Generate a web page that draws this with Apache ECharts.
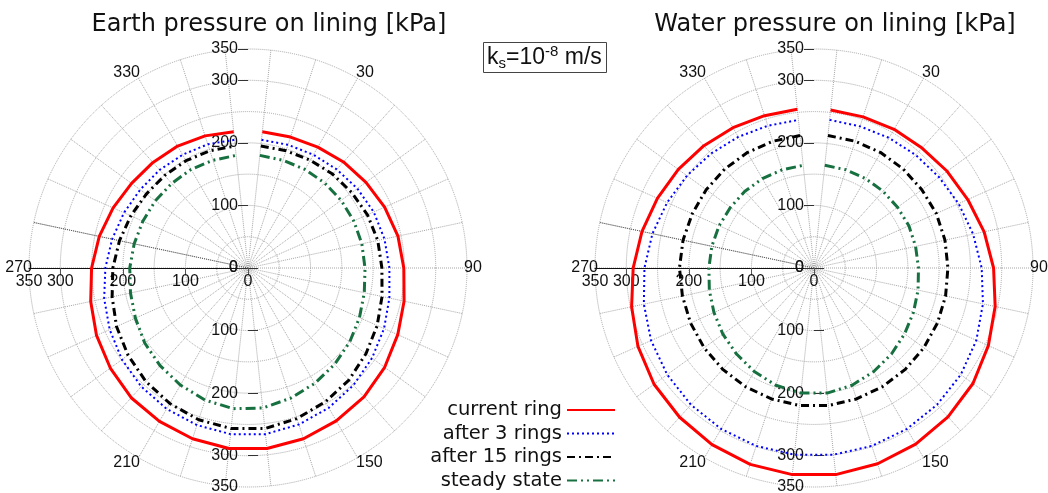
<!DOCTYPE html>
<html>
<head>
<meta charset="utf-8">
<script src="https://cdn.jsdelivr.net/npm/echarts@6/dist/echarts.min.js"></script>
<style>
  html, body { margin: 0; padding: 0; background: #fff; }
  #chart { width: 1048px; height: 493px; }
</style>
</head>
<body>
<div id="chart"></div>
<script>
// angles of the lining points (deg, clockwise from crown)
const angles = [6, 18, 30, 42, 54, 66, 78, 90, 102, 114, 126, 138, 150, 162, 174,
                186, 198, 210, 222, 234, 246, 258, 270, 282, 294, 306, 318, 330, 342, 354];
const seriesNames = ["current ring", "after 3 rings", "after 15 rings", "steady state"];

// Earth pressure [kPa]
const earthCurrent = [219, 220, 223, 228, 233, 239, 245, 249, 255, 262, 270, 277, 282, 287, 290,
                      290, 287, 283, 279, 272, 265, 257, 250, 243, 236, 230, 227, 225, 222, 219];
const earth3 = [206, 207, 209, 212, 216, 220, 223, 226, 231, 238, 245, 252, 258, 263, 267,
                267, 264, 260, 255, 249, 242, 235, 228, 222, 217, 213, 211, 209, 208, 206];
const earth15 = [196, 197, 199, 202, 205, 209, 212, 214, 219, 226, 233, 241, 247, 253, 258,
                 258, 255, 250, 244, 237, 230, 222, 216, 210, 205, 201, 199, 198, 197, 196];
const earthSteady = [181, 181, 182, 183, 184, 185, 186, 187, 190, 195, 201, 207, 213, 219, 225,
                     226, 222, 216, 210, 204, 197, 192, 189, 186, 184, 183, 182, 182, 181, 181];

// Water pressure [kPa]
const waterCurrent = [254, 254, 256, 258, 263, 269, 278, 287, 296, 305, 314, 320, 325, 329, 332,
                      332, 330, 326, 321, 316, 308, 298, 289, 281, 274, 268, 263, 259, 256, 255];
const water3 = [238, 238, 240, 243, 247, 253, 260, 268, 276, 284, 290, 294, 297, 299, 300,
                300, 299, 297, 294, 290, 285, 278, 271, 264, 257, 251, 246, 242, 239, 238];
const water15 = [213, 213, 213, 213, 213, 214, 214, 214, 215, 216, 217, 218, 219, 220, 221,
                 221, 220, 219, 218, 217, 216, 215, 215, 214, 213, 213, 213, 213, 213, 213];
const waterSteady = [165, 165, 165, 165, 165, 166, 166, 167, 170, 174, 179, 185, 191, 197, 201,
                     201, 197, 191, 185, 180, 175, 171, 168, 167, 166, 165, 165, 165, 165, 165];

const radialLabels = [0, 100, 200, 300, 350];
const radialTicks = [0, 100, 200, 300, 350];
const leftTicks = [0, 100, 200, 300];
const angleLabels = [30, 90, 150, 210, 270, 330];
const markedSpoke = 282;

const R = 219;
const centers = [[248, 268], [814, 268]];
const labelFont = { fontFamily: "Liberation Sans", fontSize: 16, color: "#111" };
const gridStroke = { color: "#a6a6a6", type: "dotted", width: 1 };
const tickStroke = { color: "#333", width: 1 };

const styles = [
  { color: "#ff0000", width: 3, type: "solid" },
  { color: "#0000ff", width: 2, type: [2, 3] },
  { color: "#000000", width: 3, type: [8, 4, 2, 4] },
  { color: "#17703f", width: 3, type: [10, 4, 2, 4, 2, 4] },
];

const polar = [], angleAxis = [], radiusAxis = [], series = [];

function addPolar(center, ang, rad) {
  const idx = polar.length;
  polar.push({ center: center, radius: [0, R] });
  angleAxis.push(Object.assign({ polarIndex: idx, type: "value", min: 0, max: 360, show: false }, ang));
  radiusAxis.push(Object.assign({
    polarIndex: idx, type: "value", min: 0, max: 350,
    axisLine: { show: false }, splitLine: { show: false }, axisLabel: { show: false }, axisTick: { show: false }
  }, rad));
  return idx;
}

function buildPlot(center, curves) {
  const main = addPolar(center, {
    show: true, min: -6, max: 354, interval: 12, startAngle: 96, clockwise: true,
    axisLine: { show: false }, axisTick: { show: false },
    splitLine: { show: true, lineStyle: gridStroke },
    axisLabel: Object.assign({}, labelFont, {
      margin: -3,
      formatter: v => angleLabels.includes(v) ? String(v) : ""
    })
  }, {
    interval: 50,
    splitLine: { show: true, lineStyle: gridStroke }
  });

  // vertical axis, upper half
  addPolar(center, { startAngle: 90 }, {
    axisTick: { show: true, length: 10, customValues: radialTicks, lineStyle: tickStroke },
    axisLabel: Object.assign({}, labelFont, { show: true, margin: 10, customValues: radialLabels, showMinLabel: true, showMaxLabel: true })
  });
  addPolar(center, { startAngle: 90 }, {
    axisTick: { show: true, inside: true, length: 9, customValues: radialTicks, lineStyle: tickStroke }
  });
  // vertical axis, lower half
  addPolar(center, { startAngle: 270 }, {
    axisTick: { show: true, length: 9, customValues: leftTicks, lineStyle: tickStroke },
    axisLabel: Object.assign({}, labelFont, { show: true, margin: -10, align: "right", customValues: radialLabels, showMinLabel: true, showMaxLabel: true })
  });
  addPolar(center, { startAngle: 270 }, {
    axisTick: { show: true, inside: true, length: 10, customValues: leftTicks, lineStyle: tickStroke }
  });
  // horizontal axis, left half
  addPolar(center, { startAngle: 180 }, {
    axisLine: { show: true, lineStyle: { color: "#111", width: 1.2 } },
    axisTick: { show: true, length: 7, customValues: leftTicks, lineStyle: { color: "#555" } },
    axisLabel: Object.assign({}, labelFont, { show: true, margin: 6, customValues: radialLabels, showMinLabel: true, showMaxLabel: true })
  });
  addPolar(center, { startAngle: 180 }, {
    axisTick: { show: true, inside: true, length: 7, customValues: leftTicks, lineStyle: { color: "#555" } }
  });

  series.push({
    type: "line", coordinateSystem: "polar", polarIndex: main, symbol: "none", silent: true,
    data: [[0, markedSpoke], [350, markedSpoke]],
    lineStyle: { color: "#555", width: 1, type: "dotted" }, z: 3
  });
  curves.forEach((vals, i) => {
    series.push({
      name: seriesNames[i], type: "line", coordinateSystem: "polar", polarIndex: main,
      symbol: "none", z: 5,
      data: angles.map((a, k) => [vals[k], a]),
      lineStyle: styles[i], itemStyle: { color: styles[i].color }
    });
  });
}

buildPlot(centers[0], [earthCurrent, earth3, earth15, earthSteady]);
buildPlot(centers[1], [waterCurrent, water3, water15, waterSteady]);

const titleFont = { fontFamily: "DejaVu Sans", fontSize: 24, fontWeight: "normal", color: "#111" };
const boxFont = { fontFamily: "Liberation Sans", fontWeight: "normal", color: "#111", lineHeight: 27 };
const chart = echarts.init(document.getElementById("chart"));
chart.setOption({
  animation: false,
  backgroundColor: "#fff",
  title: [
    { text: "Earth pressure on lining [kPa]", left: 264, top: 8, textAlign: "center", textStyle: titleFont },
    { text: "Water pressure on lining [kPa]", left: 830, top: 8, textAlign: "center", textStyle: titleFont },
    {
      text: "{n|k}{s|s}{n|=10}{p|-8}{n| m/s}", left: 483, top: 42,
      borderColor: "#444", borderWidth: 1, padding: [2, 5, 2, 4],
      textStyle: {
        fontWeight: "normal",
        rich: {
          n: Object.assign({ fontSize: 23 }, boxFont),
          s: Object.assign({ fontSize: 15, verticalAlign: "bottom" }, boxFont),
          p: Object.assign({ fontSize: 15, verticalAlign: "top" }, boxFont)
        }
      }
    }
  ],
  legend: {
    data: seriesNames, orient: "vertical", align: "right", right: 432, top: 400, padding: 0,
    itemWidth: 48, itemHeight: 14, itemGap: 3.5, selectedMode: false,
    itemStyle: { opacity: 0 },
    textStyle: { fontFamily: "DejaVu Sans", fontSize: 19.5, color: "#111" }
  },
  polar, angleAxis, radiusAxis, series
});
</script>
</body>
</html>
